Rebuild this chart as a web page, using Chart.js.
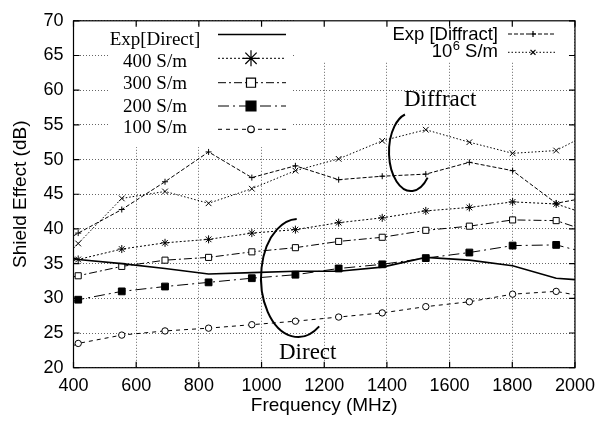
<!DOCTYPE html>
<html>
<head>
<meta charset="utf-8">
<title>Shield Effect vs Frequency</title>
<script src="https://cdn.jsdelivr.net/npm/chart.js@4.4.1/dist/chart.umd.min.js"></script>
<style>
    html, body { margin: 0; padding: 0; background: #fff; }
</style>
</head>
<body>
<canvas id="shieldChart" width="603" height="425"></canvas>
<script>
// Measured (Exp) and simulated shielding effectiveness for several conductivities
const freqs = [400, 415, 554, 692, 831, 969, 1108, 1246, 1385, 1524, 1663, 1801, 1940, 2000];

const expDirect   = [35.8, 35.6, 35.0, 34.3, 33.5, 33.7, 33.9, 33.9, 34.5, 35.9, 35.5, 34.7, 32.9, 32.7];
const sigma400    = [35.45, 35.6, 37.1, 38.0, 38.5, 39.4, 39.9, 40.9, 41.6, 42.6, 43.1, 43.9, 43.6, 42.7];
const sigma300    = [33.1, 33.25, 34.6, 35.5, 35.9, 36.7, 37.3, 38.2, 38.8, 39.8, 40.4, 41.3, 41.2, 40.3];
const sigma200    = [29.6, 29.8, 31.0, 31.7, 32.3, 32.9, 33.4, 34.3, 34.9, 35.8, 36.6, 37.6, 37.7, 37.0];
const sigma100    = [23.2, 23.5, 24.7, 25.3, 25.7, 26.2, 26.7, 27.3, 27.9, 28.8, 29.5, 30.6, 31.0, 30.5];
const expDiffract = [39.0, 39.4, 42.8, 46.8, 51.1, 47.4, 49.1, 47.1, 47.6, 47.9, 49.6, 48.4, 43.7, 44.2];
const sigma1e6    = [37.2, 37.9, 44.4, 45.4, 43.7, 45.8, 48.4, 50.1, 52.7, 54.3, 52.5, 50.9, 51.3, 52.7];

const xTicks = [400, 600, 800, 1000, 1200, 1400, 1600, 1800, 2000];
const yTicks = [20, 25, 30, 35, 40, 45, 50, 55, 60, 65, 70];

const SANS = '"Liberation Sans", Arial, sans-serif';
const SERIF = '"Liberation Serif", "Times New Roman", serif';

// end points only carry the line out to the frame, they get no marker
const hasMarker = freqs.map((f, i) => (i === 0 || i === freqs.length - 1) ? 0 : 1);

function makeSeries(label, values, style) {
    const size = style.markerSize || 0;
    return Object.assign({
        label: label,
        data: freqs.map((f, i) => ({ x: f, y: values[i] })),
        borderColor: '#000',
        backgroundColor: '#000',
        borderWidth: 1,
        pointBorderColor: '#000',
        pointBackgroundColor: '#000',
        pointBorderWidth: 1,
        tension: 0,
        fill: false
    }, style, {
        pointRadius: hasMarker.map(m => m * size),
        pointHoverRadius: hasMarker.map(m => m * size)
    });
}

const datasets = [
    makeSeries('Exp[Direct]', expDirect, { borderWidth: 1.6, markerSize: 0 }),
    makeSeries('400 S/m', sigma400, { borderDash: [2, 2], pointStyle: 'star', markerSize: 4 }),
    makeSeries('300 S/m', sigma300, { borderDash: [8, 3, 2, 3], pointStyle: 'rect', markerSize: 4.3, pointBackgroundColor: '#fff' }),
    makeSeries('200 S/m', sigma200, { borderDash: [11, 4, 2, 4], pointStyle: 'rect', markerSize: 4.8 }),
    makeSeries('100 S/m', sigma100, { borderDash: [4, 4], pointStyle: 'circle', markerSize: 3.2, pointBackgroundColor: '#fff' }),
    makeSeries('Exp [Diffract]', expDiffract, { borderDash: [4, 2], pointStyle: 'cross', markerSize: 3 }),
    makeSeries('10^6 S/m', sigma1e6, { borderDash: [1.5, 2], pointStyle: 'crossRot', markerSize: 4 })
];

// Key layout (gnuplot style, two boxes)
const leftKey = {
    box: [108, 25, 292, 147], textX: 155, x1: 218, x2: 286, markX: 251,
    rows: [
        { ds: 0, lineY: 34.5, textY: 45,    mark: 0 },
        { ds: 1, lineY: 58.3, textY: 66.7,  mark: 8 },
        { ds: 2, lineY: 82.7, textY: 89,    mark: 6.4 },
        { ds: 3, lineY: 106,  textY: 111.7, mark: 7 },
        { ds: 4, lineY: 129.3, textY: 133.3, mark: 3.3 }
    ]
};
const rightKey = {
    box: [296, 18, 568, 62], textRight: 498, x1: 508, x2: 555, markX: 533,
    rows: [
        { ds: 5, lineY: 34,   textY: 39.5, mark: 3 },
        { ds: 6, lineY: 52.3, textY: 57,   mark: 3.5 }
    ]
};

function drawSample(ctx, ds, x1, x2, y, markX, mark) {
    ctx.save();
    ctx.strokeStyle = '#000';
    ctx.lineWidth = ds.borderWidth;
    ctx.setLineDash(ds.borderDash || []);
    ctx.beginPath();
    ctx.moveTo(x1, y);
    ctx.lineTo(x2, y);
    ctx.stroke();
    if (mark > 0) {
        ctx.setLineDash([]);
        ctx.lineWidth = 1.2;
        ctx.fillStyle = ds.pointBackgroundColor;
        Chart.helpers.drawPoint(ctx, { pointStyle: ds.pointStyle, rotation: 0, radius: mark, borderWidth: 1.2 }, markX, y);
    }
    ctx.restore();
}

const keyBackground = {
    id: 'keyBackground',
    beforeDatasetsDraw(chart) {
        const ctx = chart.ctx;
        ctx.save();
        ctx.fillStyle = '#fff';
        [leftKey.box, rightKey.box].forEach(b => ctx.fillRect(b[0], b[1], b[2] - b[0], b[3] - b[1]));
        ctx.restore();
    }
};

const frameAndKeys = {
    id: 'frameAndKeys',
    afterDatasetsDraw(chart) {
        const { ctx, chartArea: a, scales } = chart;
        ctx.save();

        // border with inward tick marks on all four sides
        ctx.strokeStyle = '#000';
        ctx.lineWidth = 1.2;
        ctx.setLineDash([]);
        ctx.strokeRect(a.left, a.top, a.right - a.left, a.bottom - a.top);
        const tl = 6;
        ctx.beginPath();
        xTicks.forEach(v => {
            const px = scales.x.getPixelForValue(v);
            ctx.moveTo(px, a.bottom); ctx.lineTo(px, a.bottom - tl);
            ctx.moveTo(px, a.top); ctx.lineTo(px, a.top + tl);
        });
        yTicks.forEach(v => {
            const py = scales.y.getPixelForValue(v);
            ctx.moveTo(a.left, py); ctx.lineTo(a.left + tl, py);
            ctx.moveTo(a.right, py); ctx.lineTo(a.right - tl, py);
        });
        ctx.stroke();

        // left key: serif labels centred
        ctx.fillStyle = '#000';
        ctx.font = '19px ' + SERIF;
        ctx.textAlign = 'center';
        ctx.textBaseline = 'alphabetic';
        leftKey.rows.forEach(r => {
            const ds = chart.data.datasets[r.ds];
            ctx.fillText(ds.label, leftKey.textX, r.textY);
            drawSample(ctx, ds, leftKey.x1, leftKey.x2, r.lineY, leftKey.markX, r.mark);
        });

        // right key: sans labels, right aligned
        ctx.textAlign = 'right';
        ctx.font = '18.5px ' + SANS;
        rightKey.rows.forEach(r => {
            const ds = chart.data.datasets[r.ds];
            const sup = ds.label.match(/^(\d+)\^(\d+)(.*)$/);
            if (sup) {
                ctx.font = '18.5px ' + SANS;
                const tail = sup[3];
                const tailW = ctx.measureText(tail).width;
                ctx.fillText(tail, rightKey.textRight, r.textY);
                ctx.font = '13px ' + SANS;
                const expW = ctx.measureText(sup[2]).width;
                ctx.fillText(sup[2], rightKey.textRight - tailW, r.textY - 7);
                ctx.font = '18.5px ' + SANS;
                ctx.fillText(sup[1], rightKey.textRight - tailW - expW - 0.5, r.textY);
            } else {
                ctx.fillText(ds.label, rightKey.textRight, r.textY);
            }
            drawSample(ctx, ds, rightKey.x1, rightKey.x2, r.lineY, rightKey.markX, r.mark);
        });

        // annotations marking the two groups of curves
        ctx.textAlign = 'left';
        ctx.font = '23px ' + SERIF;
        ctx.fillText('Diffract', 404, 106);
        ctx.fillText('Direct', 279, 358.5);
        ctx.lineWidth = 2;
        ctx.beginPath();
        ctx.ellipse(411, 152, 22, 39, 0, 41 * Math.PI / 180, 254 * Math.PI / 180);
        ctx.stroke();
        ctx.beginPath();
        ctx.ellipse(298, 278, 37, 59, 0, 55 * Math.PI / 180, 268 * Math.PI / 180);
        ctx.stroke();

        ctx.restore();
    }
};

const ctx = document.getElementById('shieldChart');
new Chart(ctx, {
    type: 'line',
    data: { datasets: datasets },
    options: {
        responsive: false,
        animation: false,
        layout: { padding: { left: 0, top: 18, right: 22, bottom: 0 } },
        plugins: {
            legend: { display: false },
            tooltip: { enabled: false }
        },
        scales: {
            x: {
                type: 'linear',
                min: xTicks[0],
                max: xTicks[xTicks.length - 1],
                afterFit: scale => { scale.height = 57.3; },
                ticks: {
                    stepSize: xTicks[1] - xTicks[0],
                    padding: 8,
                    color: '#000',
                    maxRotation: 0,
                    autoSkip: false,
                    font: { family: SANS, size: 18 },
                    callback: v => String(v)
                },
                grid: { color: '#666', lineWidth: 1, drawTicks: false },
                border: { display: false, dash: [1, 2] },
                title: {
                    display: true,
                    text: 'Frequency (MHz)',
                    color: '#000',
                    font: { family: SANS, size: 19 },
                    padding: { top: 0, bottom: 8 }
                }
            },
            y: {
                min: yTicks[0],
                max: yTicks[yTicks.length - 1],
                afterFit: scale => { scale.width = 73.5; },
                ticks: {
                    stepSize: yTicks[1] - yTicks[0],
                    padding: 10,
                    color: '#000',
                    font: { family: SANS, size: 18 },
                    callback: v => String(v)
                },
                grid: { color: '#666', lineWidth: 1, drawTicks: false },
                border: { display: false, dash: [1, 2] },
                title: {
                    display: true,
                    text: 'Shield Effect (dB)',
                    color: '#000',
                    font: { family: SANS, size: 19 },
                    padding: { top: 9.6, bottom: 0 }
                }
            }
        }
    },
    plugins: [keyBackground, frameAndKeys]
});
</script>
</body>
</html>
